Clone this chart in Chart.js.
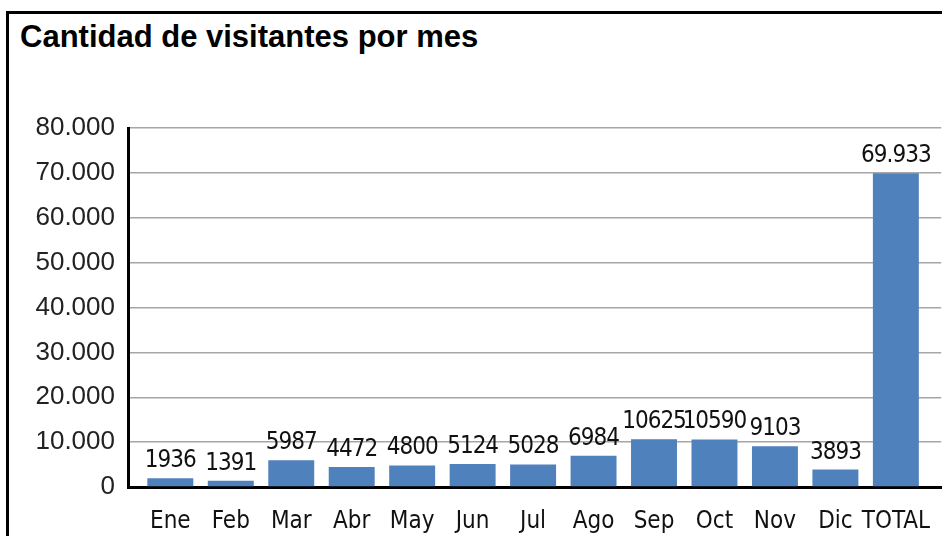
<!DOCTYPE html>
<html>
<head>
<meta charset="utf-8">
<script src="https://cdn.jsdelivr.net/npm/chart.js@4/dist/chart.umd.min.js"></script>
<style>
  html, body { margin: 0; padding: 0; background: #fff; overflow: hidden; }
  #page { position: relative; width: 942px; height: 536px; overflow: hidden; }
  #frame {
    position: absolute; left: 6px; top: 11px; width: 1000px; height: 600px;
    border-left: 3px solid #000; border-top: 3px solid #000;
  }
  #title {
    position: absolute; left: 20px; top: 19px;
    font: bold 31px "Liberation Sans", Arial, sans-serif; color: #000;
  }
  #chart { position: absolute; left: 0; top: 0; }
</style>
</head>
<body>
<div id="page">
  <div id="frame"></div>
  <div id="title">Cantidad de visitantes por mes</div>
  <canvas id="chart" width="942" height="536"></canvas>
</div>
<script>
// data
const categories = ['Ene', 'Feb', 'Mar', 'Abr', 'May', 'Jun', 'Jul', 'Ago', 'Sep', 'Oct', 'Nov', 'Dic', 'TOTAL'];
const visitors = [1936, 1391, 5987, 4472, 4800, 5124, 5028, 6984, 10625, 10590, 9103, 3893, 69933];
const yTicks = [0, 10000, 20000, 30000, 40000, 50000, 60000, 70000, 80000];

const narrow = '"Liberation Sans Narrow", "DejaVu Sans Condensed", "DejaVu Sans", sans-serif';
const dotted = v => String(v).replace(/\B(?=(\d{3})+(?!\d))/g, '.');

// the total uses a thousands dot, the months do not
const labelText = i => categories[i] === 'TOTAL' ? dotted(visitors[i]) : String(visitors[i]);

const barLabels = {
  id: 'barLabels',
  afterDatasetsDraw(chart) {
    const ctx = chart.ctx;
    const meta = chart.getDatasetMeta(0);
    ctx.save();
    ctx.font = 'condensed 24px ' + narrow;
    ctx.letterSpacing = '-1px';
    ctx.fillStyle = '#111';
    ctx.textAlign = 'center';
    ctx.textBaseline = 'alphabetic';
    meta.data.forEach((bar, i) => {
      ctx.fillText(labelText(i), bar.x, bar.y - 11);
    });
    ctx.restore();
  }
};

new Chart(document.getElementById('chart'), {
  type: 'bar',
  data: {
    datasets: [{
      data: visitors.map((v, i) => ({ x: i, y: v })),
      backgroundColor: '#4f81bd',
      barPercentage: 0.76,
      categoryPercentage: 1
    }]
  },
  options: {
    responsive: false,
    animation: false,
    layout: { padding: { top: 128, left: 0, right: 0, bottom: 0 } },
    plugins: { legend: { display: false }, tooltip: { enabled: false } },
    scales: {
      x: {
        type: 'linear',
        offset: false,
        min: -0.7,
        max: 12.75,
        afterFit: s => { s.height = 49; },
        grid: { display: false, offset: false },
        border: { color: '#000', width: 3 },
        ticks: {
          stepSize: 1,
          includeBounds: false,
          maxTicksLimit: 30,
          autoSkip: false,
          maxRotation: 0,
          padding: 12,
          color: '#111',
          font: { family: narrow, size: 24, weight: 'condensed' },
          callback: v => Number.isInteger(v) ? categories[v] : ''
        }
      },
      y: {
        min: 0,
        max: 80000,
        afterFit: s => { s.width = 128; },
        afterBuildTicks: s => { s.ticks = yTicks.map(v => ({ value: v })); },
        grid: { color: '#a6a6a6', lineWidth: 1.5, drawTicks: false },
        border: { color: '#000', width: 3 },
        ticks: {
          padding: 13,
          color: '#222',
          font: { family: '"Liberation Sans", Arial, sans-serif', size: 26 },
          callback: v => dotted(v)
        }
      }
    }
  },
  plugins: [barLabels]
});
</script>
</body>
</html>
